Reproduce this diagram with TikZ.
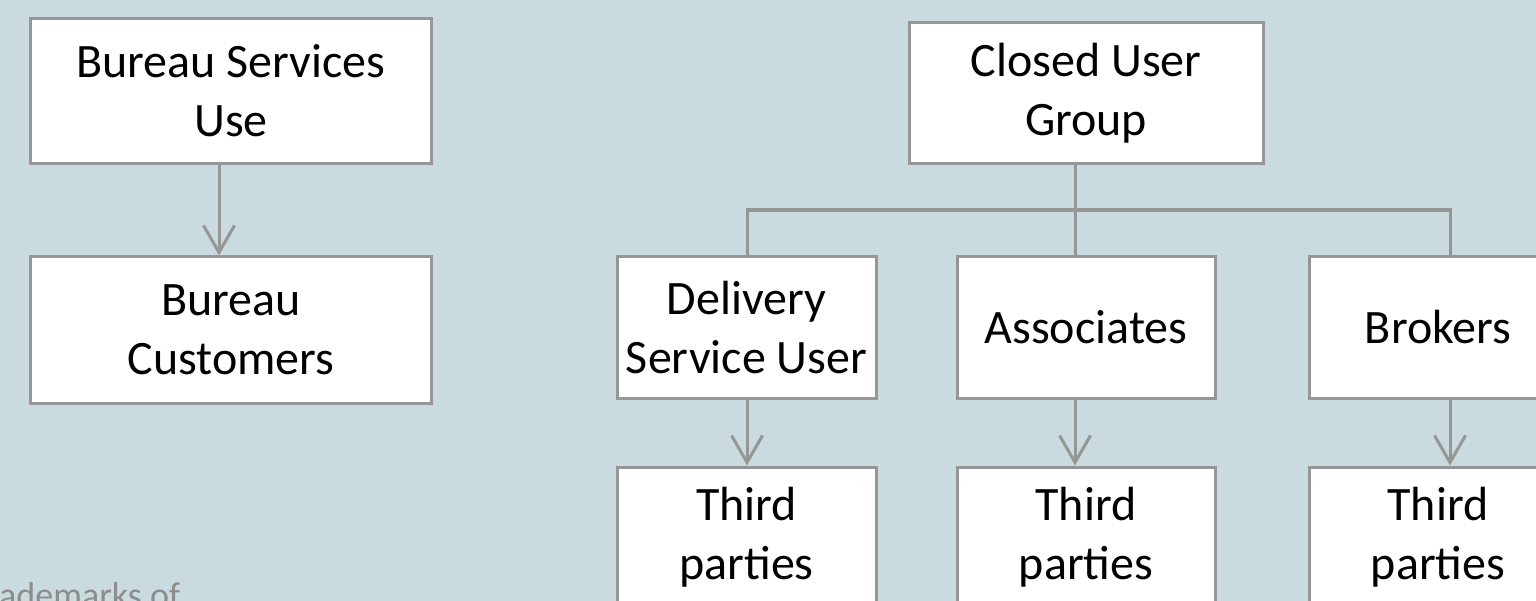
\documentclass[tikz,border=0pt]{standalone}
\usepackage{fontspec}
\setmainfont{Carlito}
\usetikzlibrary{arrows.meta}
\definecolor{bgblue}{RGB}{201,219,223}
\definecolor{linegray}{RGB}{150,150,150}
\definecolor{notegray}{RGB}{140,140,140}
\tikzset{
  box/.style={draw=linegray, line width=3bp, fill=white, inner sep=0pt,
    align=center, font=\fontsize{48bp}{59bp}\selectfont, text=black},
  conn/.style={draw=linegray, line width=3bp, line join=miter},
  arr/.style={conn, -{Straight Barb[length=27bp, width=31bp]}},
}
\begin{document}
\begin{tikzpicture}[x=1bp, y=-1bp]
\useasboundingbox (0,0) rectangle (1536,601);
\clip (0,0) rectangle (1536,601);
\fill[bgblue] (0,0) rectangle (1536,601);

% left column
\node[box, minimum width=400bp, minimum height=144.3bp] (bsu) at (231,90.85) {Bureau Services\\Use};
\node[box, minimum width=400bp, minimum height=146bp] (bc) at (231,330) {Bureau\\Customers};

% right hierarchy
\node[box, minimum width=354bp, minimum height=140.3bp] (cug) at (1086,92.85) {Closed User\\Group};
\node[box, minimum width=259bp, minimum height=141bp] (dsu) at (746.5,327.5) {Delivery\\Service User};
\node[box, minimum width=258bp, minimum height=141bp] (assoc) at (1086,327.5) {Associates};
\node[box, minimum width=258bp, minimum height=141bp] (brok) at (1438,327.5) {Brokers};
\node[box, minimum width=259bp, minimum height=141bp] (tp1) at (746.5,537.5) {Third\\parties};
\node[box, minimum width=258bp, minimum height=141bp] (tp2) at (1086,537.5) {Third\\parties};
\node[box, minimum width=258bp, minimum height=141bp] (tp3) at (1438,537.5) {Third\\parties};

% connector x positions and bar level
\coordinate (xl) at (219,0);
\coordinate (xd) at (747,0);
\coordinate (xa) at (1075,0);
\coordinate (xb) at (1450,0);
\coordinate (bar) at (0,210);

% hierarchy connectors
\draw[conn] (cug.south -| xa) -- (assoc.north -| xa);
\draw[conn] (dsu.north -| xd) -- (xd |- bar) -- (xb |- bar) -- (brok.north -| xb);

% arrows
\draw[arr] (bsu.south -| xl) -- (bc.north -| xl);
\draw[arr] (dsu.south -| xd) -- (tp1.north -| xd);
\draw[arr] (assoc.south -| xa) -- (tp2.north -| xa);
\draw[arr] (brok.south -| xb) -- (tp3.north -| xb);

% cut-off footnote text, as in the reference
\node[anchor=base west, inner sep=0pt, text=notegray, font=\fontsize{36bp}{43bp}\selectfont] (note) at (-1,607) {ademarks of};
\end{tikzpicture}
\end{document}
